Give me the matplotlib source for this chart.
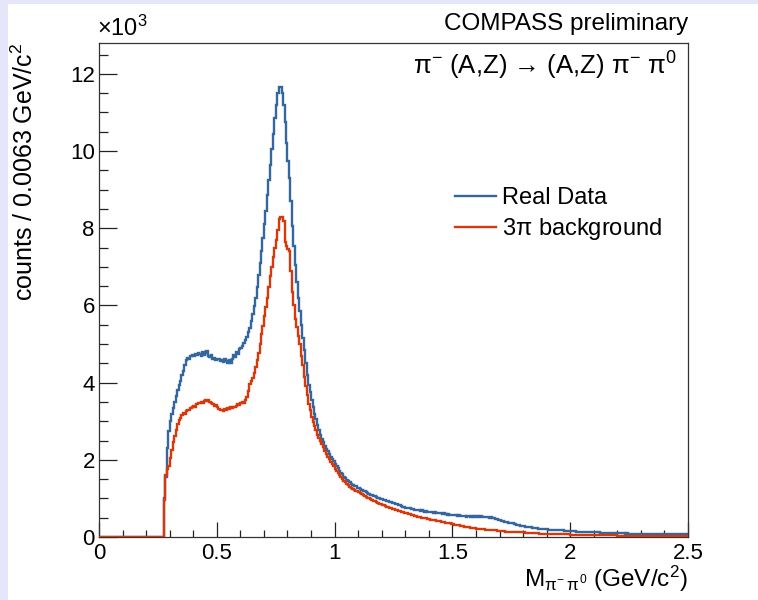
import matplotlib
matplotlib.use("Agg")
import matplotlib.pyplot as plt
import numpy as np
from matplotlib.patches import Rectangle
from matplotlib.ticker import MultipleLocator

plt.rcParams["font.family"] = ["Liberation Sans", "DejaVu Sans"]
plt.rcParams["mathtext.fontset"] = "custom"
plt.rcParams["mathtext.rm"] = "Liberation Sans"
plt.rcParams["mathtext.it"] = "Liberation Sans"
plt.rcParams["mathtext.sf"] = "Liberation Sans"

# histogram binning: 400 bins of 0.00625 GeV/c^2 from 0 to 2.5
BIN_WIDTH = 0.00625
N_BINS = 400
N_EMPTY = 44  # below the pi- pi0 threshold

# bin contents in units of 10^3 counts, starting at bin 44 (m = 0.275)
real_data_k = [
    1.00, 1.55, 2.30, 2.75,
    3.00, 3.20, 3.35, 3.50, 3.65, 3.80, 3.95, 4.05,
    4.20, 4.30, 4.45, 4.58, 4.65, 4.62, 4.70, 4.72,
    4.68, 4.75, 4.72, 4.78, 4.74, 4.70, 4.80, 4.72,
    4.76, 4.82, 4.70, 4.66, 4.72, 4.62, 4.64, 4.58,
    4.60, 4.62, 4.56, 4.58, 4.54, 4.60, 4.57, 4.52,
    4.58, 4.50, 4.62, 4.72, 4.66, 4.80, 4.74, 4.86,
    4.90, 4.95, 5.02, 5.10, 5.18, 5.30, 5.42, 5.60,
    5.78, 5.98, 6.20, 6.48, 6.78, 7.10, 7.40, 7.75,
    8.10, 8.45, 8.85, 9.25, 9.65, 10.05, 10.45, 10.85,
    11.20, 11.50, 11.65, 11.65, 11.50, 11.20, 10.75, 10.20,
    9.75, 9.30, 8.70, 8.05, 7.55, 7.05, 6.60, 6.20,
    5.85, 5.50, 5.15, 4.85, 4.50, 4.20, 3.95, 3.75,
    3.55, 3.38, 3.20, 3.05, 2.90, 2.78, 2.65, 2.55,
    2.45, 2.36, 2.28, 2.22, 2.14, 2.08, 2.02, 1.96,
    1.90, 1.84, 1.78, 1.72, 1.66, 1.62, 1.56, 1.52,
    1.48, 1.45, 1.42, 1.38, 1.36, 1.33, 1.31, 1.28,
    1.27, 1.24, 1.22, 1.20, 1.18, 1.16, 1.13, 1.12,
    1.10, 1.09, 1.07, 1.05, 1.04, 1.02, 1.00, 0.99,
    0.98, 0.96, 0.95, 0.94, 0.93, 0.91, 0.90, 0.89,
    0.88, 0.86, 0.85, 0.83, 0.82, 0.80, 0.79, 0.77,
    0.76, 0.75, 0.74, 0.74, 0.72, 0.73, 0.71, 0.70,
    0.70, 0.69, 0.68, 0.69, 0.67, 0.66, 0.67, 0.65,
    0.65, 0.64, 0.65, 0.63, 0.64, 0.62, 0.63, 0.61,
    0.61, 0.60, 0.61, 0.59, 0.58, 0.59, 0.57, 0.58,
    0.57, 0.56, 0.57, 0.55, 0.56, 0.54, 0.55, 0.54,
    0.55, 0.53, 0.54, 0.54, 0.53, 0.55, 0.53, 0.54,
    0.53, 0.54, 0.52, 0.54, 0.53, 0.52, 0.53, 0.51,
    0.52, 0.50, 0.51, 0.49, 0.48, 0.47, 0.46, 0.45,
    0.44, 0.42, 0.41, 0.40, 0.39, 0.38, 0.37, 0.37,
    0.36, 0.35, 0.33, 0.32, 0.31, 0.30, 0.29, 0.28,
    0.28, 0.27, 0.26, 0.26, 0.25, 0.25, 0.24, 0.24,
    0.23, 0.23, 0.22, 0.22, 0.21, 0.21, 0.20, 0.20,
    0.20, 0.19, 0.19, 0.19, 0.18, 0.18, 0.18, 0.18,
    0.18, 0.17, 0.17, 0.17, 0.16, 0.16, 0.16, 0.16,
    0.15, 0.15, 0.15, 0.15, 0.14, 0.14, 0.14, 0.14,
    0.14, 0.13, 0.13, 0.13, 0.13, 0.13, 0.12, 0.12,
    0.12, 0.12, 0.12, 0.12, 0.11, 0.11, 0.11, 0.11,
    0.11, 0.11, 0.11, 0.10, 0.10, 0.10, 0.10, 0.10,
    0.10, 0.10, 0.10, 0.10, 0.10, 0.09, 0.10, 0.09,
    0.09, 0.09, 0.09, 0.09, 0.09, 0.09, 0.09, 0.09,
    0.09, 0.09, 0.08, 0.09, 0.08, 0.08, 0.08, 0.08,
    0.08, 0.08, 0.08, 0.08, 0.08, 0.08, 0.08, 0.08,
    0.08, 0.08, 0.07, 0.08, 0.07, 0.08, 0.07, 0.07,
    0.07, 0.07, 0.07, 0.07, 0.07, 0.07, 0.07, 0.07,
]

background_3pi_k = [
    0.96, 1.60, 1.75, 1.85,
    2.05, 2.25, 2.45, 2.62, 2.78, 2.92, 3.02, 3.08,
    3.15, 3.22, 3.18, 3.26, 3.30, 3.28, 3.34, 3.36,
    3.40, 3.38, 3.44, 3.46, 3.48, 3.50, 3.48, 3.52,
    3.54, 3.52, 3.56, 3.50, 3.48, 3.44, 3.40, 3.42,
    3.36, 3.32, 3.28, 3.30, 3.26, 3.32, 3.30, 3.34,
    3.32, 3.36, 3.34, 3.38, 3.36, 3.40, 3.44, 3.42,
    3.46, 3.50, 3.48, 3.56, 3.62, 3.78, 3.96, 4.05,
    4.12, 4.25, 4.40, 4.58, 4.78, 5.00, 5.25, 5.48,
    5.72, 5.95, 6.20, 6.48, 6.75, 7.00, 7.25, 7.50,
    7.70, 7.95, 8.25, 8.30, 8.30, 8.20, 7.65, 7.55,
    7.45, 7.40, 6.90, 6.35, 6.00, 5.65, 5.45, 5.20,
    5.00, 4.70, 4.45, 4.15, 3.90, 3.68, 3.45, 3.28,
    3.12, 2.98, 2.88, 2.76, 2.65, 2.56, 2.48, 2.40,
    2.32, 2.24, 2.16, 2.08, 2.02, 1.95, 1.89, 1.83,
    1.77, 1.71, 1.66, 1.60, 1.55, 1.50, 1.46, 1.42,
    1.37, 1.34, 1.30, 1.28, 1.25, 1.22, 1.20, 1.18,
    1.16, 1.13, 1.11, 1.08, 1.06, 1.04, 1.02, 1.00,
    0.98, 0.96, 0.94, 0.92, 0.90, 0.88, 0.86, 0.85,
    0.83, 0.82, 0.80, 0.79, 0.77, 0.76, 0.75, 0.73,
    0.72, 0.71, 0.69, 0.68, 0.67, 0.66, 0.64, 0.63,
    0.62, 0.61, 0.60, 0.59, 0.57, 0.56, 0.55, 0.54,
    0.53, 0.52, 0.51, 0.50, 0.49, 0.48, 0.48, 0.47,
    0.46, 0.45, 0.44, 0.44, 0.43, 0.42, 0.41, 0.41,
    0.40, 0.39, 0.38, 0.37, 0.36, 0.36, 0.35, 0.34,
    0.33, 0.32, 0.31, 0.31, 0.30, 0.29, 0.28, 0.28,
    0.27, 0.26, 0.26, 0.25, 0.24, 0.24, 0.23, 0.23,
    0.22, 0.22, 0.21, 0.21, 0.20, 0.20, 0.19, 0.19,
    0.18, 0.18, 0.18, 0.17, 0.17, 0.17, 0.16, 0.16,
    0.16, 0.15, 0.15, 0.15, 0.14, 0.14, 0.14, 0.14,
    0.13, 0.13, 0.13, 0.13, 0.12, 0.12, 0.12, 0.12,
    0.12, 0.11, 0.11, 0.11, 0.11, 0.11, 0.10, 0.10,
    0.10, 0.10, 0.10, 0.09, 0.09, 0.09, 0.09, 0.09,
    0.09, 0.09, 0.08, 0.08, 0.08, 0.08, 0.08, 0.08,
    0.08, 0.07, 0.07, 0.07, 0.07, 0.07, 0.07, 0.07,
    0.06, 0.06, 0.06, 0.06, 0.06, 0.06, 0.06, 0.06,
    0.05, 0.05, 0.05, 0.05, 0.05, 0.05, 0.05, 0.05,
    0.05, 0.05, 0.04, 0.04, 0.04, 0.04, 0.04, 0.04,
    0.04, 0.04, 0.04, 0.04, 0.04, 0.04, 0.04, 0.04,
    0.03, 0.03, 0.03, 0.03, 0.03, 0.03, 0.03, 0.03,
    0.03, 0.03, 0.03, 0.03, 0.03, 0.03, 0.03, 0.03,
    0.03, 0.03, 0.03, 0.03, 0.03, 0.03, 0.03, 0.03,
    0.03, 0.03, 0.03, 0.03, 0.02, 0.02, 0.02, 0.02,
    0.02, 0.02, 0.02, 0.02, 0.02, 0.02, 0.02, 0.02,
    0.02, 0.02, 0.02, 0.02, 0.02, 0.02, 0.02, 0.02,
]

series_labels = ["Real Data", r"3$\pi$ background"]

BLUE = "#33679e"
RED = "#d63a0c"
LAVENDER = "#e6e6fa"


def full_hist(values: list[float]) -> np.ndarray:
    return np.concatenate([np.zeros(N_EMPTY), np.asarray(values, dtype=float)])


def main() -> None:
    edges = np.arange(N_BINS + 1) * BIN_WIDTH
    real = full_hist(real_data_k)
    bkg = full_hist(background_3pi_k)

    fig = plt.figure(figsize=(7.58, 6.0), dpi=100)
    fig.patch.set_facecolor(LAVENDER)
    fig.patches.append(Rectangle((8 / 758, 0), 1.0, 596 / 600, transform=fig.transFigure,
                                 facecolor="white", edgecolor="none", zorder=-10))

    ax = fig.add_axes([99 / 758, 63 / 600, 589 / 758, 494 / 600])
    ax.set_facecolor("white")
    ax.stairs(real, edges, baseline=None, color=BLUE, linewidth=1.7, label=series_labels[0], zorder=2)
    ax.stairs(bkg, edges, baseline=None, color=RED, linewidth=1.7, label=series_labels[1], zorder=3)

    ax.set_xlim(0, 2.5)
    ax.set_ylim(0, 12.8)
    ax.xaxis.set_major_locator(MultipleLocator(0.5))
    ax.xaxis.set_minor_locator(MultipleLocator(0.1))
    ax.yaxis.set_major_locator(MultipleLocator(2))
    ax.yaxis.set_minor_locator(MultipleLocator(0.5))
    ax.xaxis.set_major_formatter(lambda v, _: f"{v:g}")
    ax.tick_params(axis="both", which="both", direction="in", top=False, right=False,
                   width=0.9, color="#222222", labelsize=16)
    ax.tick_params(axis="x", which="major", length=10.5, pad=4)
    ax.tick_params(axis="x", which="minor", length=5.2)
    ax.tick_params(axis="y", which="major", length=13, pad=3)
    ax.tick_params(axis="y", which="minor", length=6.5)
    for spine in ax.spines.values():
        spine.set_linewidth(0.9)
        spine.set_color("#333333")

    ax.set_xlabel(r"M$_{\pi^{-}\,\pi^{0}}$ (GeV/c$^{2}$)", fontsize=17.5, loc="right")
    ax.xaxis.set_label_coords(1.0, -0.055)
    ax.set_ylabel(r"counts / 0.0063 GeV/c$^{2}$", fontsize=18, loc="top")
    ax.yaxis.set_label_coords(-0.104, 1.0)

    fig.text(97 / 758, 1 - 41 / 600, r"$\times$10$^{3}$", fontsize=17, ha="left", va="bottom")
    fig.text(688 / 758, 1 - 24 / 600, "COMPASS preliminary", fontsize=17.5, ha="right", va="center")
    fig.text(677 / 758, 1 - 66 / 600, "π$^{-}$ (A,Z) → (A,Z) π$^{-}$ π$^{0}$",
             fontsize=18.5, ha="right", va="center")

    ax.legend(loc="upper left", bbox_to_anchor=(455 / 758, 1 - 187 / 600),
              bbox_transform=fig.transFigure, frameon=False, fontsize=17,
              handlelength=1.75, handletextpad=0.22, labelspacing=0.3,
              borderpad=0, borderaxespad=0)

    fig.savefig("out.png", dpi=100, facecolor=fig.get_facecolor())
    plt.close(fig)


if __name__ == "__main__":
    main()
